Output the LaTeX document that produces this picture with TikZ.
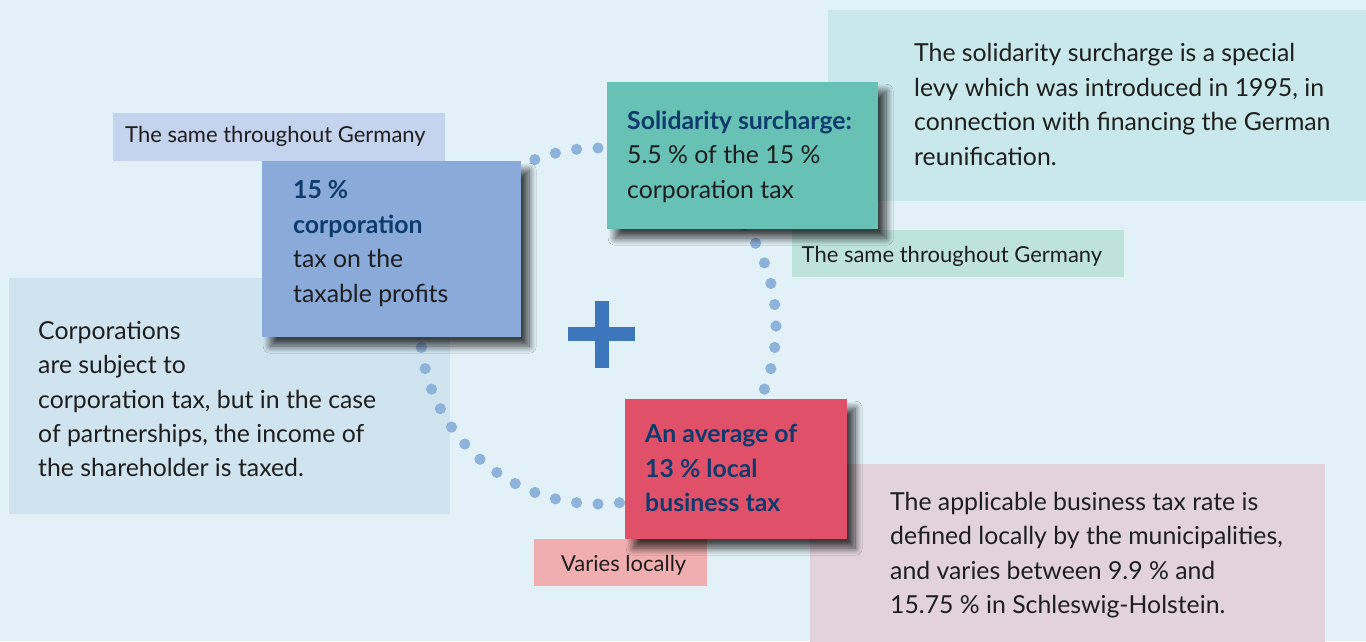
\documentclass[tikz,border=0pt]{standalone}
\usepackage{fontspec}
\setmainfont{Lato}
\usetikzlibrary{shadows.blur}
\definecolor{bgc}{HTML}{E2F1F7}
\definecolor{tagA}{HTML}{C6D3EE}
\definecolor{corpc}{HTML}{8AAAD9}
\definecolor{leftc}{HTML}{D0E4F0}
\definecolor{solic}{HTML}{67C1B4}
\definecolor{trc}{HTML}{C9E8EB}
\definecolor{tagB}{HTML}{BDE3DC}
\definecolor{redc}{HTML}{E05169}
\definecolor{tagC}{HTML}{F1AEB0}
\definecolor{brc}{HTML}{E2D3DB}
\definecolor{plusc}{HTML}{3E76BC}
\definecolor{dotc}{HTML}{8EB3DB}
\definecolor{headc}{HTML}{0E3A6E}
\definecolor{txtc}{HTML}{1E1E1E}
\begin{document}
\begin{tikzpicture}[x=1pt,y=-1pt,
  panel/.style={fill=#1, draw=none, inner sep=0pt, anchor=north west},
  shad/.style={blur shadow={shadow xshift=8pt, shadow yshift=-9pt, shadow blur radius=7pt, shadow opacity=72, shadow blur steps=14}},
  txt/.style={anchor=west, align=left, inner sep=0pt, text=txtc, font=\fontsize{24.8}{34.5}\selectfont},
  tagtxt/.style={anchor=west, inner sep=0pt, text=txtc, font=\fontsize{22}{24}\selectfont}
]
\useasboundingbox (0,0) rectangle (1366,641);
\fill[bgc] (0,0) rectangle (1366,641);

% light explanation panels
\node[panel=leftc, minimum width=441pt, minimum height=236pt] (leftbox) at (9,278) {};
\node[panel=trc, minimum width=540pt, minimum height=191pt] (trbox) at (828,10) {};
\node[panel=brc, minimum width=515pt, minimum height=180pt] (brbox) at (810,464) {};

% tags
\node[panel=tagA, minimum width=332pt, minimum height=48pt] (tag1) at (113,113) {};
\node[panel=tagB, minimum width=332pt, minimum height=47pt] (tag2) at (792,230) {};
\node[panel=tagC, minimum width=173pt, minimum height=47pt] (tag3) at (534,539) {};

% dotted circle
\coordinate (c) at (598,326);
\foreach \i in {0,...,51}
  \fill[dotc] ({598+178*cos(\i*6.9230769)},{326+178*sin(\i*6.9230769)}) circle (5.6pt);

% plus
\fill[plusc] (568,327) rectangle (635,341);
\fill[plusc] (595,301) rectangle (608.5,368);

% main coloured boxes
\node[panel=corpc, shad, minimum width=259pt, minimum height=176pt] (corp) at (262,161) {};
\node[panel=solic, shad, minimum width=271pt, minimum height=147pt] (soli) at (607,82) {};
\node[panel=redc, shad, minimum width=222pt, minimum height=140pt] (red) at (625,399) {};

% texts
\node[tagtxt] (t1) at (125,136.5) {The same throughout Germany};
\node[tagtxt] (t2) at (801.5,256) {The same throughout Germany};
\node[tagtxt] (t3) at (561,565) {Varies locally};

\node[txt] (tcorp) at (293,243.5) {{\color{headc}\bfseries 15 \%}\\{\color{headc}\bfseries corporation}\\tax on the\\taxable profits};
\node[txt] (tsoli) at (627,156.5) {{\color{headc}\bfseries Solidarity surcharge:}\\5.5 \% of the 15 \%\\corporation tax};
\node[txt] (tred) at (645,468) {{\color{headc}\bfseries An average of}\\{\color{headc}\bfseries 13 \% local}\\{\color{headc}\bfseries business tax}};

\node[txt] (tleft) at (38,399) {Corporations\\are subject to\\corporation tax, but in the case\\of partnerships, the income of\\the shareholder is taxed.};
\node[txt] (ttr) at (914,104.5) {The solidarity surcharge is a special\\levy which was introduced in 1995, in\\connection with financing the German\\reunification.};
\node[txt] (tbr) at (890,555) {The applicable business tax rate is\\defined locally by the municipalities,\\and varies between 9.9 \% and\\15.75 \% in Schleswig-Holstein.};
\end{tikzpicture}
\end{document}
